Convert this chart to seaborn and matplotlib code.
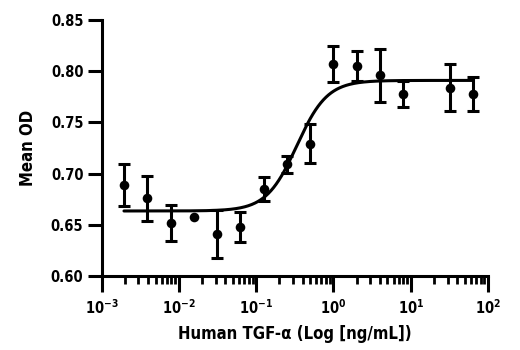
import numpy as np
import pandas as pd
import matplotlib
matplotlib.use("Agg")
import matplotlib.pyplot as plt
import seaborn as sns
from matplotlib.ticker import LogLocator, LogFormatterSciNotation, NullFormatter, FixedLocator, FormatStrFormatter

# Data
conc = [0.001953125, 0.00390625, 0.0078125, 0.015625, 0.03125, 0.0625, 0.125,
        0.25, 0.5, 1.0, 2.0, 4.0, 8.0, 32.0, 64.0]
mean_od = [0.689, 0.676, 0.652, 0.658, 0.641, 0.648, 0.685,
           0.709, 0.729, 0.807, 0.805, 0.796, 0.778, 0.784, 0.778]
err_od = [0.0205, 0.022, 0.0175, 0.0, 0.0236, 0.0147, 0.012,
          0.008, 0.019, 0.018, 0.015, 0.0256, 0.0125, 0.023, 0.0166]
# 4-parameter logistic fit parameters
fit_bottom, fit_top, fit_ec50, fit_hill = 0.6635, 0.791, 0.336, 2.2

y_ticks = [0.60, 0.65, 0.70, 0.75, 0.80, 0.85]
x_label = "Human TGF-α (Log [ng/mL])"
y_label = "Mean OD"

sns.set_style("ticks")
plt.rcParams['font.family'] = ['DejaVu Sans']
plt.rcParams['font.stretch'] = 'condensed'
plt.rcParams['font.weight'] = 'bold'
plt.rcParams['mathtext.default'] = 'regular'
plt.rcParams['text.color'] = 'black'
plt.rcParams['axes.labelcolor'] = 'black'
plt.rcParams['xtick.color'] = 'black'
plt.rcParams['ytick.color'] = 'black'

df = pd.DataFrame({"conc": conc, "od": mean_od, "err": err_od})
xs = np.logspace(np.log10(conc[0]), np.log10(conc[-1]), 400)
fit_df = pd.DataFrame({"conc": xs,
                       "od": fit_bottom + (fit_top - fit_bottom) / (1 + (fit_ec50 / xs) ** fit_hill)})
eb = df[df["err"] > 0]

fig = plt.figure(figsize=(5.2, 3.5), dpi=100)
ax = fig.add_axes([101.5 / 520, 74 / 350, 386.5 / 520, 256 / 350])

ax.errorbar(eb["conc"], eb["od"], yerr=eb["err"], fmt="none", ecolor="black",
            elinewidth=2.2, capsize=4, capthick=2.2, zorder=3)
sns.lineplot(data=fit_df, x="conc", y="od", ax=ax, color="black", linewidth=2.2, zorder=4)
sns.scatterplot(data=df, x="conc", y="od", ax=ax, color="black", s=48,
                edgecolor="black", linewidth=0, zorder=5)

ax.set_xscale("log")
ax.set_xlim(1e-3, 1e2)
ax.set_ylim(0.60, 0.85)
ax.xaxis.set_major_locator(LogLocator(base=10, numticks=10))
ax.xaxis.set_major_formatter(LogFormatterSciNotation())
ax.xaxis.set_minor_locator(LogLocator(base=10, subs=np.arange(2, 10), numticks=20))
ax.xaxis.set_minor_formatter(NullFormatter())
ax.yaxis.set_major_locator(FixedLocator(y_ticks))
ax.yaxis.set_major_formatter(FormatStrFormatter("%.2f"))

for s in ["top", "right"]:
    ax.spines[s].set_visible(False)
for s in ["left", "bottom"]:
    ax.spines[s].set_linewidth(2.2)
    ax.spines[s].set_color("black")

ax.tick_params(axis="x", which="major", length=11.5, width=2.2, pad=4.5, labelsize=10.5)
ax.tick_params(axis="x", which="minor", length=6, width=2.0)
ax.tick_params(axis="y", which="major", length=10, width=2.2, pad=3, labelsize=10.5)
for lab in ax.get_xticklabels() + ax.get_yticklabels():
    lab.set_fontweight("bold")
    lab.set_fontstretch("condensed")

ax.set_xlabel(x_label, fontsize=12, fontweight="bold", fontstretch="condensed", labelpad=6)
ax.set_ylabel(y_label, fontsize=12, fontweight="bold", fontstretch="condensed", labelpad=10)

fig.savefig("out.png", dpi=100)
